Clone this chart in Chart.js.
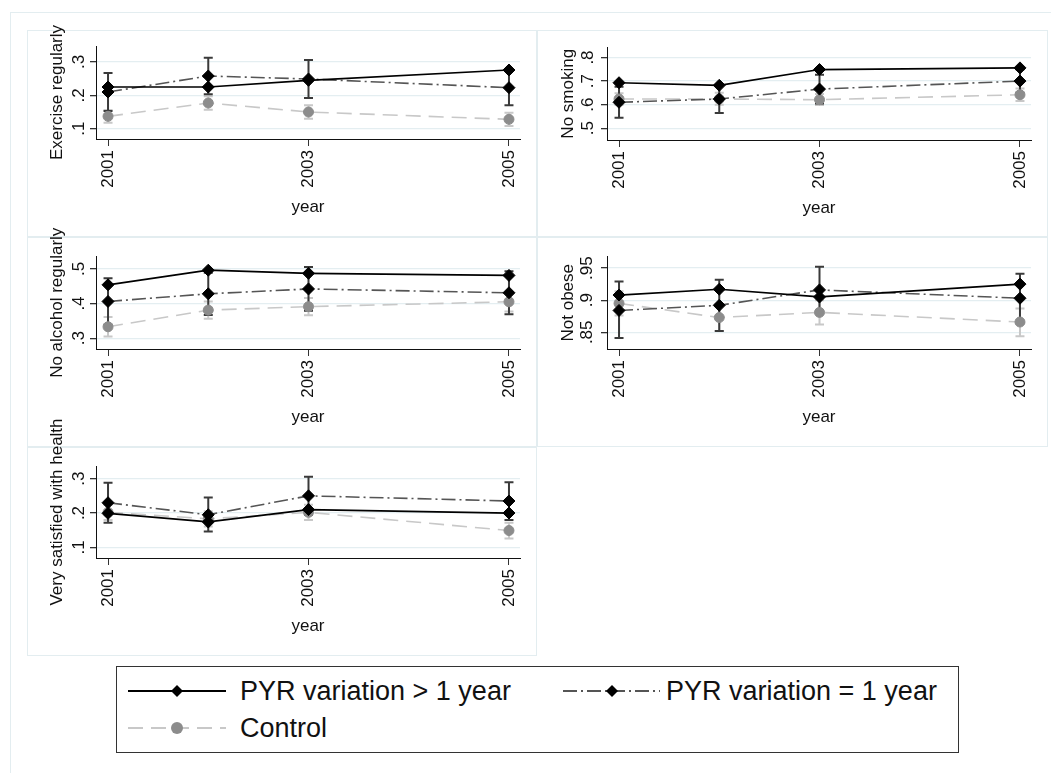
<!DOCTYPE html>
<html>
<head>
<meta charset="utf-8">
<script src="https://cdn.jsdelivr.net/npm/chart.js@4.4.1/dist/chart.umd.min.js"></script>
<style>
html, body { margin: 0; padding: 0; background: #fff; }
body { width: 1051px; height: 773px; position: relative; overflow: hidden; font-family: 'Liberation Sans', Arial, sans-serif; }
.frame { position: absolute; left: 10px; top: 12px; width: 1100px; height: 800px; border: 1px solid #e3edf0; }
.panel { position: absolute; border: 1px solid #e3edf0; box-sizing: border-box; background: #fff; }
.wrap { position: absolute; }
.legend { position: absolute; left: 116px; top: 666px; width: 843px; height: 87px; border: 1.5px solid #333; box-sizing: border-box; }
.legtext { position: absolute; font-size: 27px; line-height: 30px; color: #111; white-space: nowrap; }
svg.sym { position: absolute; }
</style>
</head>
<body>
<div class="frame"></div>
<div id="panels"></div>
<div class="legend"></div>
<svg class="sym" style="left:0;top:0" width="1051" height="773">
  <line x1="128" y1="691" x2="226" y2="691" stroke="#000" stroke-width="2"/>
  <polygon points="171,691 177,685 183,691 177,697" fill="#000"/>
  <line x1="563" y1="691" x2="660" y2="691" stroke="#555" stroke-width="2" stroke-dasharray="14,4,2,4"/>
  <polygon points="606,691 612,685 618,691 612,697" fill="#000"/>
  <line x1="128" y1="728" x2="226" y2="728" stroke="#c8c8c8" stroke-width="2" stroke-dasharray="15,8"/>
  <circle cx="177" cy="728" r="6" fill="#8c8c8c"/>
</svg>
<div class="legtext" style="left:240px;top:676px">PYR variation &gt; 1 year</div>
<div class="legtext" style="left:666px;top:676px">PYR variation = 1 year</div>
<div class="legtext" style="left:240px;top:713px">Control</div>

<script>
const years = [2001, 2002, 2003, 2005];
const xTicks = [2001, 2003, 2005];

// Exercise regularly
const exerciseLong = [0.225, 0.225, 0.245, 0.276];
const exerciseOne = [0.210, 0.258, 0.249, 0.223];
const exerciseOneLo = [0.153, 0.203, 0.192, 0.170];
const exerciseOneHi = [0.267, 0.313, 0.306, 0.276];
const exerciseCtrl = [0.137, 0.177, 0.150, 0.128];
const exerciseCtrlLo = [0.118, 0.157, 0.130, 0.108];
const exerciseCtrlHi = [0.156, 0.197, 0.170, 0.148];
const exerciseTicks = [0.1, 0.2, 0.3];

// No smoking
const smokingLong = [0.693, 0.682, 0.749, 0.756];
const smokingOne = [0.610, 0.624, 0.666, 0.700];
const smokingOneLo = [0.544, 0.565, 0.605, 0.650];
const smokingOneHi = [0.676, 0.684, 0.727, 0.750];
const smokingCtrl = [0.624, 0.624, 0.621, 0.642];
const smokingCtrlLo = [0.600, 0.600, 0.598, 0.615];
const smokingCtrlHi = [0.648, 0.650, 0.645, 0.668];
const smokingTicks = [0.5, 0.6, 0.7, 0.8];

// No alcohol regularly
const alcoholLong = [0.454, 0.496, 0.487, 0.481];
const alcoholOne = [0.406, 0.428, 0.442, 0.431];
const alcoholOneLo = [0.339, 0.367, 0.379, 0.369];
const alcoholOneHi = [0.473, 0.489, 0.505, 0.493];
const alcoholCtrl = [0.333, 0.381, 0.391, 0.405];
const alcoholCtrlLo = [0.305, 0.356, 0.366, 0.377];
const alcoholCtrlHi = [0.361, 0.406, 0.416, 0.433];
const alcoholTicks = [0.3, 0.4, 0.5];

// Not obese
const obeseLong = [0.908, 0.917, 0.905, 0.925];
const obeseOne = [0.884, 0.892, 0.916, 0.903];
const obeseOneLo = [0.841, 0.852, 0.880, 0.865];
const obeseOneHi = [0.929, 0.932, 0.952, 0.941];
const obeseCtrl = [0.895, 0.873, 0.881, 0.866];
const obeseCtrlLo = [0.876, 0.852, 0.862, 0.844];
const obeseCtrlHi = [0.914, 0.894, 0.900, 0.887];
const obeseTicks = [0.85, 0.9, 0.95];

// Very satisfied with health
const healthLong = [0.199, 0.174, 0.210, 0.200];
const healthOne = [0.230, 0.195, 0.250, 0.235];
const healthOneLo = [0.172, 0.146, 0.194, 0.180];
const healthOneHi = [0.288, 0.245, 0.306, 0.290];
const healthCtrl = [0.202, 0.183, 0.202, 0.149];
const healthCtrlLo = [0.180, 0.161, 0.180, 0.126];
const healthCtrlHi = [0.224, 0.205, 0.224, 0.172];
const healthTicks = [0.1, 0.2, 0.3];

const panels = [
  { title: 'Exercise regularly', long: exerciseLong, one: exerciseOne, oneLo: exerciseOneLo, oneHi: exerciseOneHi,
    ctrl: exerciseCtrl, ctrlLo: exerciseCtrlLo, ctrlHi: exerciseCtrlHi, ticks: exerciseTicks, min: 0.069, max: 0.348,
    box: [27, 30, 510, 207], plotTop: 46, plotBottom: 139, yw: 69, tickPad: 4 },
  { title: 'No smoking', long: smokingLong, one: smokingOne, oneLo: smokingOneLo, oneHi: smokingOneHi,
    ctrl: smokingCtrl, ctrlLo: smokingCtrlLo, ctrlHi: smokingCtrlHi, ticks: smokingTicks, min: 0.450, max: 0.8425,
    box: [537, 30, 511, 207], plotTop: 47.5, plotBottom: 140, yw: 70, tickPad: 6 },
  { title: 'No alcohol regularly', long: alcoholLong, one: alcoholOne, oneLo: alcoholOneLo, oneHi: alcoholOneHi,
    ctrl: alcoholCtrl, ctrlLo: alcoholCtrlLo, ctrlHi: alcoholCtrlHi, ticks: alcoholTicks, min: 0.269, max: 0.5355,
    box: [27, 237, 510, 210], plotTop: 256.5, plotBottom: 349, yw: 69, tickPad: 4 },
  { title: 'Not obese', long: obeseLong, one: obeseOne, oneLo: obeseOneLo, oneHi: obeseOneHi,
    ctrl: obeseCtrl, ctrlLo: obeseCtrlLo, ctrlHi: obeseCtrlHi, ticks: obeseTicks, min: 0.824, max: 0.968,
    box: [537, 237, 511, 210], plotTop: 256.5, plotBottom: 349, yw: 70, tickPad: 1.5 },
  { title: 'Very satisfied with health', long: healthLong, one: healthOne, oneLo: healthOneLo, oneHi: healthOneHi,
    ctrl: healthCtrl, ctrlLo: healthCtrlLo, ctrlHi: healthCtrlHi, ticks: healthTicks, min: 0.069, max: 0.337,
    box: [27, 447, 510, 209], plotTop: 466, plotBottom: 558, yw: 69, tickPad: 4 }
];

const FONT = "'Liberation Sans', Arial, sans-serif";
const EXT = 40;
const XH = 80;

// capped spikes for the confidence intervals
const ciPlugin = {
  id: 'ciBars',
  beforeDatasetsDraw(chart) {
    const { ctx, scales: { x, y } } = chart;
    const sets = chart.data.datasets.slice().reverse();
    sets.forEach(ds => {
      if (!ds.ciLow) return;
      ctx.save();
      ctx.strokeStyle = ds.ciColor;
      ctx.lineWidth = 2;
      ds.data.forEach((pt, i) => {
        const px = x.getPixelForValue(pt.x);
        const top = y.getPixelForValue(ds.ciHigh[i]);
        const bot = y.getPixelForValue(ds.ciLow[i]);
        ctx.beginPath();
        ctx.moveTo(px, top); ctx.lineTo(px, bot);
        ctx.moveTo(px - 4.5, top); ctx.lineTo(px + 4.5, top);
        ctx.moveTo(px - 4.5, bot); ctx.lineTo(px + 4.5, bot);
        ctx.stroke();
      });
      ctx.restore();
    });
  }
};

const toPts = arr => arr.map((v, i) => ({ x: years[i], y: v }));
const fmt = v => String(Math.round(v * 100) / 100).replace(/^0\./, '.');

const host = document.getElementById('panels');
panels.forEach(p => {
  const [l, t, w, h] = p.box;
  const border = document.createElement('div');
  border.className = 'panel';
  Object.assign(border.style, { left: l + 'px', top: t + 'px', width: w + 'px', height: h + 'px' });
  host.appendChild(border);
});

panels.forEach(p => {
  const [l, t, w, h] = p.box;
  const wrap = document.createElement('div');
  wrap.className = 'wrap';
  const cTop = t - EXT, cH = h + 2 * EXT;
  Object.assign(wrap.style, { left: l + 'px', top: cTop + 'px', width: w + 'px', height: cH + 'px' });
  const canvas = document.createElement('canvas');
  wrap.appendChild(canvas);
  document.body.appendChild(wrap);

  const padTop = p.plotTop - cTop;
  const padBottom = cH - (p.plotBottom - cTop) - XH;

  new Chart(canvas.getContext('2d'), {
    type: 'line',
    data: {
      datasets: [{
        label: 'PYR variation > 1 year',
        data: toPts(p.long),
        borderColor: '#000',
        borderWidth: 1.7,
        pointStyle: 'rectRot',
        pointRadius: 6,
        pointBackgroundColor: '#000',
        pointBorderColor: '#000',
        pointBorderWidth: 1
      }, {
        label: 'PYR variation = 1 year',
        data: toPts(p.one),
        borderColor: '#555',
        borderWidth: 1.6,
        borderDash: [14, 4, 2, 4],
        pointStyle: 'rectRot',
        pointRadius: 6,
        pointBackgroundColor: '#000',
        pointBorderColor: '#000',
        pointBorderWidth: 1,
        ciLow: p.oneLo,
        ciHigh: p.oneHi,
        ciColor: '#3a3a3a'
      }, {
        label: 'Control',
        data: toPts(p.ctrl),
        borderColor: '#c8c8c8',
        borderWidth: 1.6,
        borderDash: [15, 8],
        pointStyle: 'circle',
        pointRadius: 5,
        pointBackgroundColor: '#8c8c8c',
        pointBorderColor: '#8c8c8c',
        pointBorderWidth: 1,
        ciLow: p.ctrlLo,
        ciHigh: p.ctrlHi,
        ciColor: '#c8c8c8'
      }]
    },
    options: {
      responsive: true,
      maintainAspectRatio: false,
      animation: false,
      events: [],
      layout: { padding: { left: 0, right: 17, top: padTop, bottom: padBottom } },
      elements: { line: { tension: 0, fill: false } },
      scales: {
        x: {
          type: 'linear',
          min: 2000.88,
          max: 2005.11,
          afterBuildTicks: s => { s.ticks = xTicks.map(v => ({ value: v })); },
          afterFit: s => { s.height = XH; },
          grid: { drawOnChartArea: false, drawTicks: true, tickLength: 7, tickColor: '#333', lineWidth: 1 },
          border: { color: '#111', width: 1 },
          ticks: { autoSkip: false, minRotation: 90, maxRotation: 90, padding: 4, color: '#111',
                   font: { family: FONT, size: 17 }, callback: v => String(v) },
          title: { display: true, text: 'year', color: '#111', font: { family: FONT, size: 17 },
                   padding: { top: 0, bottom: 1 } }
        },
        y: {
          type: 'linear',
          min: p.min,
          max: p.max,
          afterBuildTicks: s => { s.ticks = p.ticks.map(v => ({ value: v })); },
          afterFit: s => { s.width = p.yw; },
          grid: { color: '#e4eef1', lineWidth: 1.3, tickColor: '#333', tickLength: 6 },
          border: { color: '#111', width: 1 },
          ticks: { autoSkip: false, minRotation: 90, maxRotation: 90, crossAlign: 'center', padding: p.tickPad,
                   color: '#111', font: { family: FONT, size: 17 }, callback: v => fmt(v) },
          title: { display: true, text: p.title, color: '#111', font: { family: FONT, size: 17 },
                   padding: { top: p.yw - 49.2, bottom: 0 } }
        }
      },
      plugins: { legend: { display: false }, tooltip: { enabled: false } }
    },
    plugins: [ciPlugin]
  });
});
</script>
</body>
</html>
